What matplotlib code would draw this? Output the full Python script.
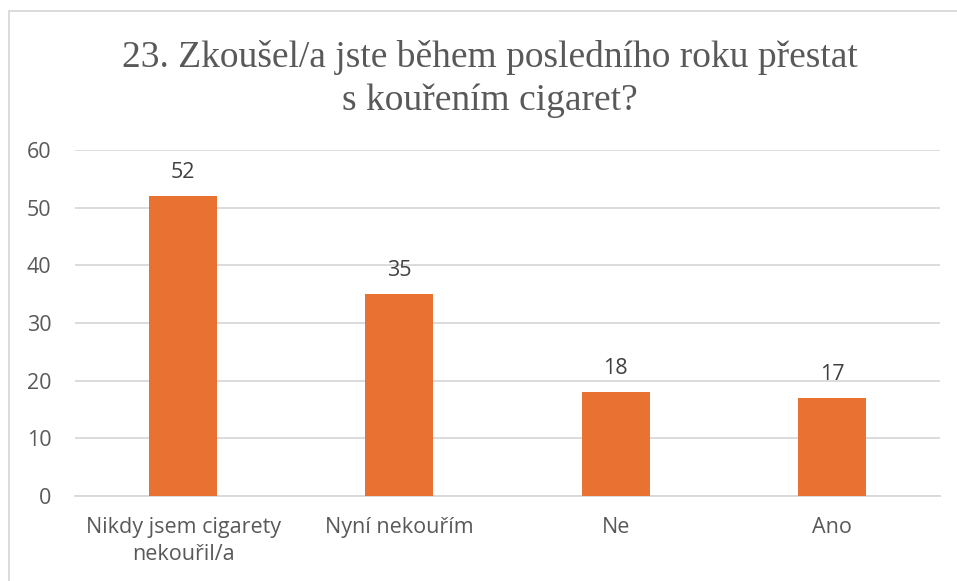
import matplotlib
matplotlib.use("Agg")
import matplotlib.pyplot as plt
from matplotlib.patches import Rectangle

categories = ["Nikdy jsem cigarety\nnekouřil/a", "Nyní nekouřím", "Ne", "Ano"]
counts = [52, 35, 18, 17]
y_ticks = [0, 10, 20, 30, 40, 50, 60]
title_lines = ["23. Zkoušel/a jste během posledního roku přestat", "s kouřením cigaret?"]

W, H = 957, 581
fig = plt.figure(figsize=(W / 100, H / 100), dpi=100)
fig.patch.set_facecolor("white")

# light frame around the chart area
fig.patches.append(Rectangle((9 / W, -0.1), 1.2, (H - 11) / H + 0.1,
                             transform=fig.transFigure, fill=False,
                             edgecolor="#D9D9D9", linewidth=1.3))

ax = fig.add_axes([75 / W, 85 / H, 865 / W, 346 / H])
x = range(len(categories))
ax.bar(x, counts, width=0.315, color="#E97132", zorder=3)
ax.set_xlim(-0.5, len(categories) - 0.5)
ax.set_ylim(0, 60)
ax.set_yticks(y_ticks)

sans = ["Open Sans", "DejaVu Sans"]
fs = 15.5
ax.set_yticklabels([str(t) for t in y_ticks], fontsize=fs, color="#595959", family=sans)
ax.set_xticks(list(x))
ax.set_xticklabels(categories, fontsize=fs, color="#595959", family=sans, linespacing=1.4)
ax.tick_params(axis="both", length=0)
ax.tick_params(axis="y", pad=17)
ax.tick_params(axis="x", pad=15)

ax.grid(axis="y", color="#D9D9D9", linewidth=1.3, zorder=0)
for s in ["top", "right", "left"]:
    ax.spines[s].set_visible(False)
ax.spines["bottom"].set_color("#D9D9D9")
ax.spines["bottom"].set_linewidth(1.3)

for xi, v in zip(x, counts):
    ax.annotate(str(v), (xi, v), xytext=(0, 13), textcoords="offset points",
                ha="center", va="baseline", fontsize=fs, color="#404040", family=sans)

serif = ["Liberation Serif", "DejaVu Serif"]
for line, base in zip(title_lines, [67, 110]):
    fig.text(490 / W, 1 - base / H, line, ha="center", va="baseline", fontsize=27,
             color="#595959", family=serif)

fig.savefig("out.png", dpi=100)
